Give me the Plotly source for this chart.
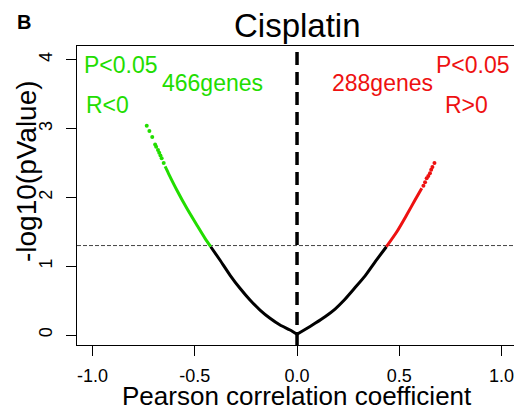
import plotly.graph_objects as go

# ---- data ----
# non-significant genes (black), r <= 0
neg_black_r = [-0.422, -0.377, -0.328, -0.279, -0.230, -0.181, -0.132, -0.083, -0.034, 0.0]
neg_black_y = [1.283, 1.09, 0.872, 0.679, 0.509, 0.363, 0.243, 0.145, 0.073, 0.01]
# non-significant genes (black), r >= 0
pos_black_r = [0.0, 0.039, 0.088, 0.137, 0.186, 0.231, 0.284, 0.333, 0.381, 0.437]
pos_black_y = [0.01, 0.08, 0.17, 0.266, 0.378, 0.509, 0.69, 0.86, 1.06, 1.283]
# significant negative (green) - dense part
green_r = [-0.422, -0.450, -0.490, -0.539, -0.588, -0.629, -0.645]
green_y = [1.283, 1.405, 1.599, 1.842, 2.108, 2.350, 2.45]
# significant negative (green) - sparse tail
green_tail_r = [-0.652, -0.662, -0.668, -0.674, -0.680, -0.689, -0.694, -0.708, -0.722, -0.735]
green_tail_y = [2.50, 2.568, 2.61, 2.65, 2.69, 2.737, 2.77, 2.878, 2.965, 3.042]
# significant positive (red) - dense part
red_r = [0.437, 0.488, 0.536, 0.577, 0.610]
red_y = [1.283, 1.50, 1.744, 1.962, 2.132]
# significant positive (red) - sparse tail
red_tail_r = [0.618, 0.626, 0.634, 0.642, 0.650, 0.656, 0.662, 0.672]
red_tail_y = [2.17, 2.22, 2.277, 2.31, 2.35, 2.40, 2.44, 2.50]

p_threshold_log = 1.3
x_ticks = [-1.0, -0.5, 0.0, 0.5, 1.0]
x_tick_labels = ["-1.0", "-0.5", "0.0", "0.5", "1.0"]
y_ticks = [0, 1, 2, 3, 4]
n_neg, n_pos = 466, 288

GREEN = "#22dd00"
RED = "#ee1111"
FONT = "Liberation Sans, Arial, sans-serif"

fig = go.Figure()
fig.add_trace(go.Scatter(x=neg_black_r, y=neg_black_y, mode="lines",
                         line=dict(color="black", width=3, shape="spline", smoothing=0.6),
                         hoverinfo="skip"))
fig.add_trace(go.Scatter(x=pos_black_r, y=pos_black_y, mode="lines",
                         line=dict(color="black", width=3, shape="spline", smoothing=0.6),
                         hoverinfo="skip"))
fig.add_trace(go.Scatter(x=green_r, y=green_y, mode="lines",
                         line=dict(color=GREEN, width=3, shape="spline", smoothing=0.6),
                         hoverinfo="skip"))
fig.add_trace(go.Scatter(x=green_tail_r, y=green_tail_y, mode="markers",
                         marker=dict(color=GREEN, size=4), hoverinfo="skip"))
fig.add_trace(go.Scatter(x=red_r, y=red_y, mode="lines",
                         line=dict(color=RED, width=3, shape="spline", smoothing=0.6),
                         hoverinfo="skip"))
fig.add_trace(go.Scatter(x=red_tail_r, y=red_tail_y, mode="markers",
                         marker=dict(color=RED, size=4), hoverinfo="skip"))

# reference lines
fig.add_shape(type="line", xref="x", yref="paper", x0=0, x1=0, y0=0, y1=1,
              line=dict(color="black", width=3.5, dash="13px,7px"), layer="below")
fig.add_shape(type="line", xref="paper", yref="y", x0=0, x1=1,
              y0=p_threshold_log, y1=p_threshold_log,
              line=dict(color="#444444", width=1, dash="4px,2px"), layer="below")

W, H = 514, 410
L, T = 77, 46
B = H - 345
PW = W - L
PH = H - T - B


def px(x):
    return (x - L) / PW


def py(y):
    return (H - B - y) / PH


def ann(text, x, y, size, color="black", xanchor="left", bold=False):
    fig.add_annotation(text=f"<b>{text}</b>" if bold else text, xref="paper", yref="paper",
                       x=px(x), y=py(y), xanchor=xanchor, yanchor="middle",
                       showarrow=False, font=dict(family=FONT, size=size, color=color))


ann("B", 15, 22, 20, bold=True)
ann("Cisplatin", 297, 25, 33, xanchor="center")
ann("P<0.05", 82, 65, 23, GREEN)
ann(f"{n_neg}genes", 160, 83, 23, GREEN)
ann("R<0", 84, 105, 23, GREEN)
ann("P<0.05", 512, 65, 23, RED, xanchor="right")
ann(f"{n_pos}genes", 330, 83, 23, RED)
ann("R>0", 443, 105, 23, RED)
ann("Pearson correlation coefficient", 297, 396, 26, xanchor="center")
fig.add_annotation(text="-log10(pValue)", xref="paper", yref="paper",
                   x=px(26), y=py(171), textangle=-90, xanchor="center", yanchor="middle",
                   showarrow=False, font=dict(family=FONT, size=28, color="black"))

fig.update_layout(
    width=W, height=H,
    margin=dict(l=L, r=0, t=T, b=B),
    paper_bgcolor="white", plot_bgcolor="white",
    showlegend=False,
    font=dict(family=FONT, color="black"),
)
fig.update_xaxes(range=[-1.076, 1.061], tickvals=x_ticks, ticktext=x_tick_labels,
                 ticks="outside", ticklen=10, tickwidth=1, tickcolor="black",
                 showline=True, linecolor="black", linewidth=1, mirror=True,
                 showgrid=False, zeroline=False, ticklabelstandoff=4,
                 ticklabeloverflow="allow",
                 tickfont=dict(family=FONT, size=18, color="black"))
fig.update_yaxes(range=[-0.145, 4.2], tickvals=y_ticks,
                 ticks="outside", ticklen=10, tickwidth=1, tickcolor="black",
                 showline=True, linecolor="black", linewidth=1, mirror=False,
                 showgrid=False, zeroline=False, tickangle=-90, ticklabelstandoff=7,
                 tickfont=dict(family=FONT, size=18, color="black"))

fig.write_html("out.html", config={"displayModeBar": False},
               post_script="document.body.style.margin='0';document.body.style.overflow='hidden';")
